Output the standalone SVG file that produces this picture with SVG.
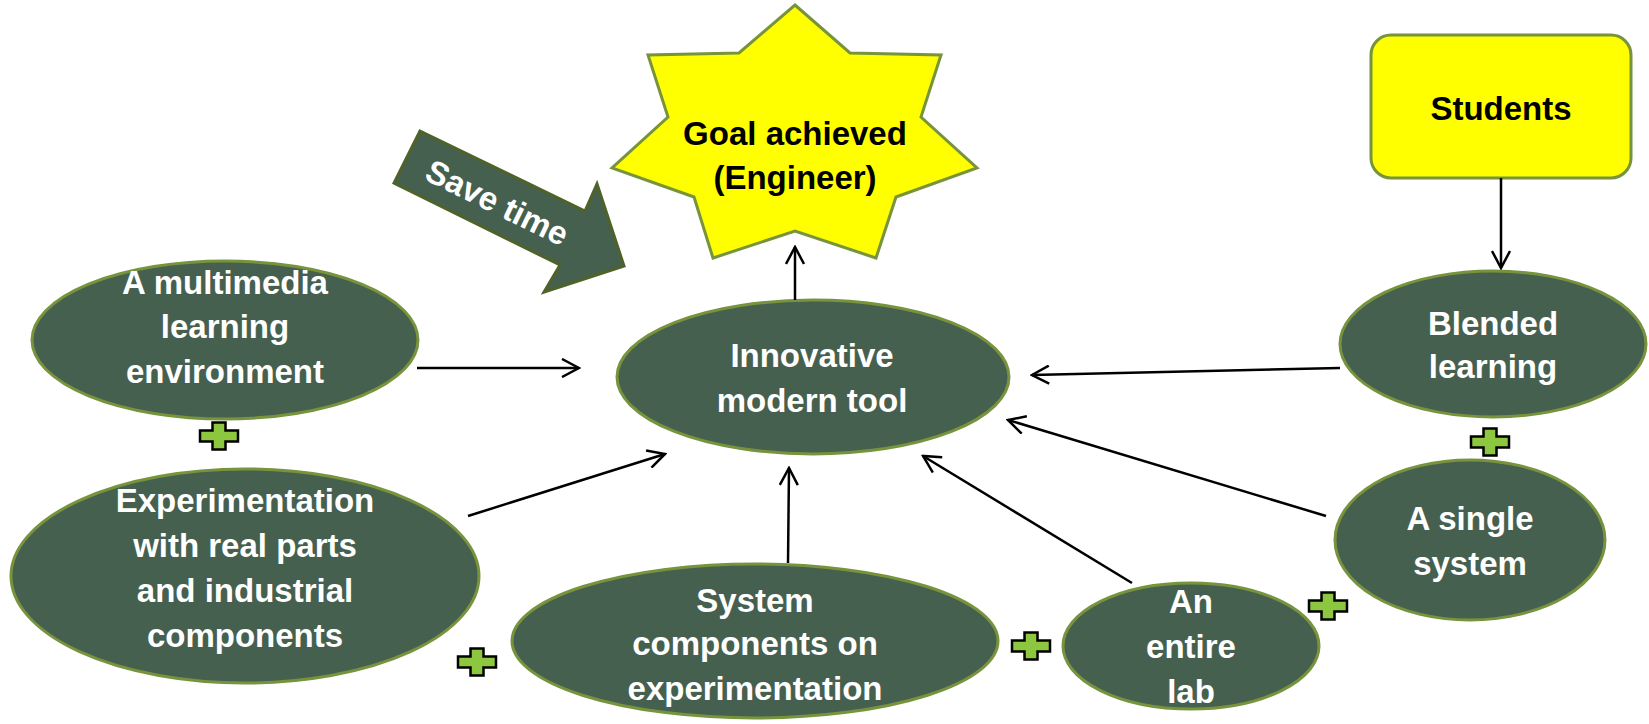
<svg xmlns="http://www.w3.org/2000/svg" xmlns:xlink="http://www.w3.org/1999/xlink" width="1649" height="724" viewBox="0 0 1649 724">
<style>
.node{fill:#466050;stroke:#77933C;stroke-width:3}
.yel{fill:#FFFF00;stroke:#77933C;stroke-width:3}
.t{font-family:"Liberation Sans",Arial,sans-serif;font-weight:bold;font-size:33px;text-anchor:middle}
.w{fill:#FFFFFF}
.b{fill:#000000}
.conn line{stroke:#000;stroke-width:2.5;marker-end:url(#ah)}
.plus{fill:#8DC63F;stroke:#000;stroke-width:2.5}
</style>
<defs>
<marker id="ah" viewBox="0 0 20 20" refX="18" refY="10" markerWidth="20" markerHeight="20" markerUnits="userSpaceOnUse" orient="auto">
<path d="M1,1 L18,10 L1,19" fill="none" stroke="#000" stroke-width="2.5"/>
</marker>
<path id="plusShape" d="M-6.5,-13.5 H6.5 V-5.5 H19 V5.5 H6.5 V13.5 H-6.5 V5.5 H-19 V-5.5 H-6.5 Z"/>
</defs>
<rect width="1649" height="724" fill="#FFFFFF"/>

<g id="goal">
<polygon class="yel" points="795,5 850,53 941,55 921,117 977,168 896,197 876,258 795,231 713,258 694,197 612,168 668,117 648,55 739,53"/>
<text class="t b" x="795" y="145">Goal achieved</text>
<text class="t b" x="795" y="189">(Engineer)</text>
</g>

<g id="savetime">
<polygon points="420,131 585,211 597,184 624,266 544,292 560,265 394,183" fill="#466050" stroke="#4F6228" stroke-width="3"/>
<text class="t w" x="0" y="11" transform="translate(497,203) rotate(26)">Save time</text>
</g>

<g id="students">
<rect class="yel" x="1371" y="35" width="260" height="143" rx="20" ry="20"/>
<text class="t b" x="1501" y="120">Students</text>
</g>

<g id="multimedia">
<ellipse class="node" cx="225" cy="340" rx="193" ry="79"/>
<text class="t w" x="225" y="294">A multimedia</text>
<text class="t w" x="225" y="338">learning</text>
<text class="t w" x="225" y="383">environment</text>
</g>

<g id="experimentation">
<ellipse class="node" cx="245" cy="576" rx="234" ry="107"/>
<text class="t w" x="245" y="512">Experimentation</text>
<text class="t w" x="245" y="557">with real parts</text>
<text class="t w" x="245" y="602">and industrial</text>
<text class="t w" x="245" y="647">components</text>
</g>

<g id="innovative">
<ellipse class="node" cx="813" cy="377" rx="196" ry="77"/>
<text class="t w" x="812" y="367">Innovative</text>
<text class="t w" x="812" y="412">modern tool</text>
</g>

<g id="systemcomponents">
<ellipse class="node" cx="755" cy="641" rx="243" ry="77"/>
<text class="t w" x="755" y="612">System</text>
<text class="t w" x="755" y="655">components on</text>
<text class="t w" x="755" y="700">experimentation</text>
</g>

<g id="entirelab">
<ellipse class="node" cx="1191" cy="646" rx="128" ry="63"/>
<text class="t w" x="1191" y="613">An</text>
<text class="t w" x="1191" y="658">entire</text>
<text class="t w" x="1191" y="703">lab</text>
</g>

<g id="blended">
<ellipse class="node" cx="1493" cy="344" rx="153" ry="73"/>
<text class="t w" x="1493" y="335">Blended</text>
<text class="t w" x="1493" y="378">learning</text>
</g>

<g id="singlesystem">
<ellipse class="node" cx="1470" cy="540" rx="135" ry="80"/>
<text class="t w" x="1470" y="530">A single</text>
<text class="t w" x="1470" y="575">system</text>
</g>

<g id="pluses">
<use xlink:href="#plusShape" class="plus" transform="translate(219,436)"/>
<use xlink:href="#plusShape" class="plus" transform="translate(477,662)"/>
<use xlink:href="#plusShape" class="plus" transform="translate(1031,646)"/>
<use xlink:href="#plusShape" class="plus" transform="translate(1328,606)"/>
<use xlink:href="#plusShape" class="plus" transform="translate(1490,442)"/>
</g>

<g id="connectors" class="conn">
<line x1="417" y1="368" x2="579" y2="368"/>
<line x1="468" y1="516" x2="665" y2="454"/>
<line x1="788" y1="563" x2="789" y2="468"/>
<line x1="1132" y1="583" x2="923" y2="456"/>
<line x1="1326" y1="516" x2="1008" y2="420"/>
<line x1="1340" y1="368" x2="1032" y2="375"/>
<line x1="795" y1="300" x2="795" y2="247"/>
<line x1="1501" y1="178" x2="1501" y2="268"/>
</g>
</svg>
